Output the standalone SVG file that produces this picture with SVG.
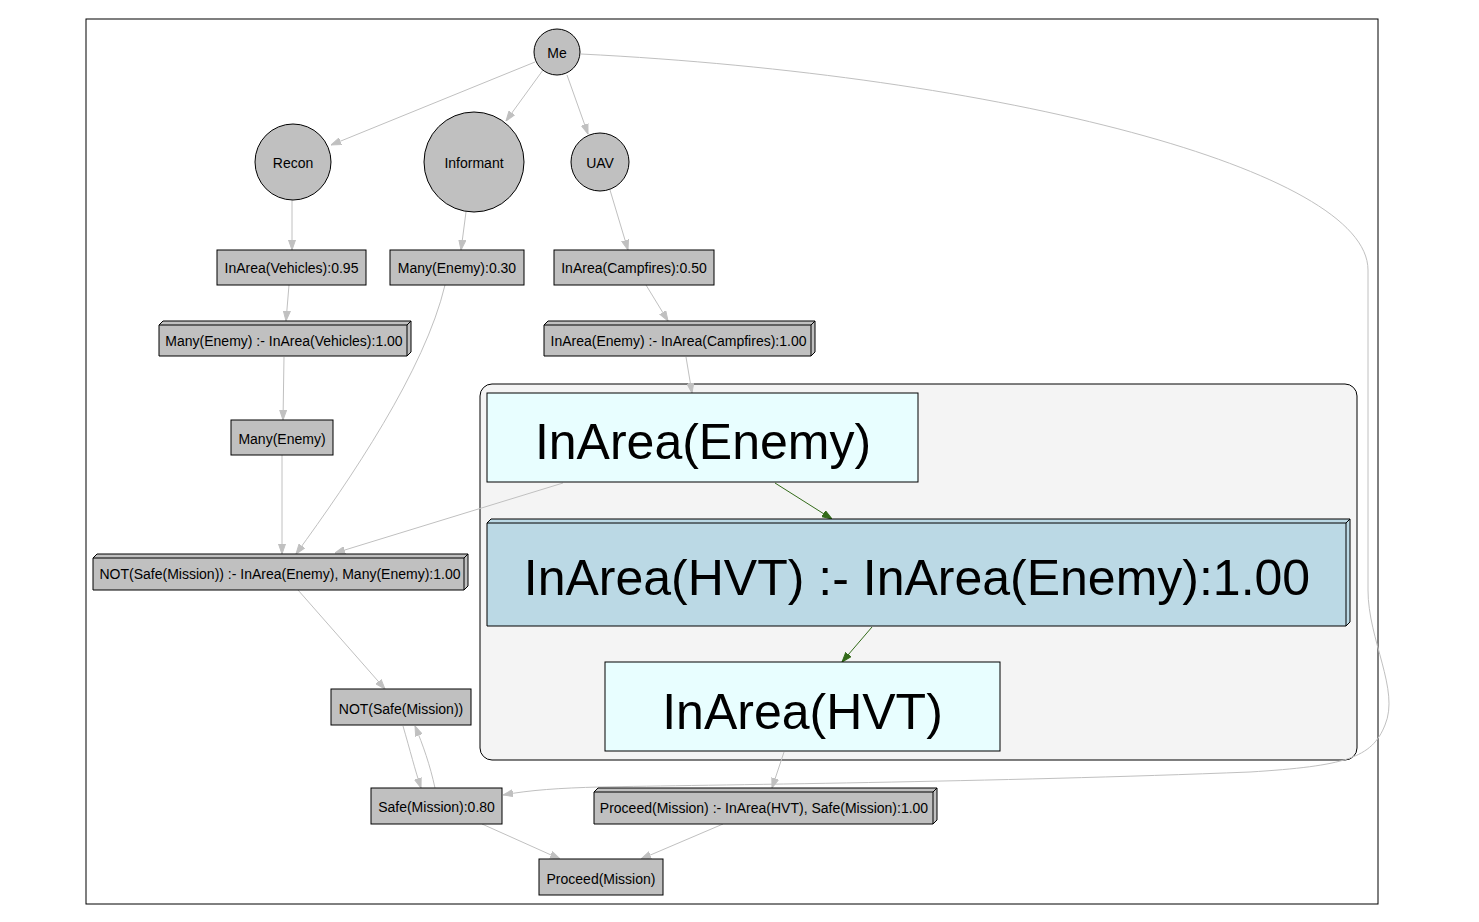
<svg xmlns="http://www.w3.org/2000/svg" width="1479" height="922" viewBox="0 0 1479 922">
<style>
.n{fill:#c0c0c0;stroke:#000;stroke-width:1}
.t{font-family:"Liberation Sans",Arial,sans-serif;font-size:14px;text-anchor:middle;fill:#000}
.big{font-family:"Liberation Sans",Arial,sans-serif;font-size:50px;text-anchor:middle;fill:#000}
.e{fill:none;stroke:#c0c0c0;stroke-width:1}
.g{fill:none;stroke:#336b1a;stroke-width:1}
</style>
<defs>
<marker id="ah" markerUnits="userSpaceOnUse" markerWidth="10" markerHeight="8" refX="10" refY="4" orient="auto"><path d="M0,0.5 L10,4 L0,7.5 z" fill="#c0c0c0" stroke="#c0c0c0"/></marker>
<marker id="ahg" markerUnits="userSpaceOnUse" markerWidth="10" markerHeight="8" refX="10" refY="4" orient="auto"><path d="M0,0.5 L10,4 L0,7.5 z" fill="#336b1a" stroke="#336b1a"/></marker>
</defs>
<rect x="0" y="0" width="1479" height="922" fill="#fff"/>
<rect x="86" y="19" width="1292" height="885" fill="none" stroke="#000"/>
<g id="cluster"><rect x="480" y="384" width="877" height="376" rx="12" fill="#f4f4f4" stroke="#000"/></g>
<g id="edges">
<path class="e" d="M535,62 L331,145" marker-end="url(#ah)"/>
<path class="e" d="M543,70 L506,121" marker-end="url(#ah)"/>
<path class="e" d="M567,75 L588,134" marker-end="url(#ah)"/>
<path class="e" d="M292,200 L292,250" marker-end="url(#ah)"/>
<path class="e" d="M466,212 L461,250" marker-end="url(#ah)"/>
<path class="e" d="M610,190 L628,250" marker-end="url(#ah)"/>
<path class="e" d="M289,285 L286,321" marker-end="url(#ah)"/>
<path class="e" d="M445,285 C425,370 350,480 296,554" marker-end="url(#ah)"/>
<path class="e" d="M646,285 L668,321" marker-end="url(#ah)"/>
<path class="e" d="M686,357 L692,393" marker-end="url(#ah)"/>
<path class="e" d="M284,357 L283,420" marker-end="url(#ah)"/>
<path class="e" d="M282,455 L282,554" marker-end="url(#ah)"/>
<path class="e" d="M563,483 L335,553" marker-end="url(#ah)"/>
<path class="g" d="M775,483 L832,519" marker-end="url(#ahg)"/>
<path class="g" d="M872,627 L842,662" marker-end="url(#ahg)"/>
<path class="e" d="M784,752 L772,788" marker-end="url(#ah)"/>
<path class="e" d="M298,590 L385,689" marker-end="url(#ah)"/>
<path class="e" d="M403,726 C410,750 415,770 421,788" marker-end="url(#ah)"/>
<path class="e" d="M435,788 C430,765 423,745 415,726" marker-end="url(#ah)"/>
<path class="e" d="M482,824 L560,859" marker-end="url(#ah)"/>
<path class="e" d="M723,824 L641,859" marker-end="url(#ah)"/>
<path class="e" d="M581,54 C1000,75 1368,170 1368,270 L1368,590 C1368,640 1400,690 1385,725 C1372,758 1345,766 1250,772 C1000,782 700,785 600,787 C560,788 530,790 503,795" marker-end="url(#ah)"/>
</g>
<g id="me"><circle class="n" cx="557" cy="52" r="23"/><text class="t" x="557" y="58">Me</text></g>
<g id="recon"><circle class="n" cx="293" cy="162" r="38"/><text class="t" x="293" y="168">Recon</text></g>
<g id="informant"><circle class="n" cx="474" cy="162" r="50"/><text class="t" x="474" y="168">Informant</text></g>
<g id="uav"><circle class="n" cx="600" cy="162" r="29"/><text class="t" x="600" y="168">UAV</text></g>
<g id="vehicles"><rect class="n" x="217" y="250" width="149" height="35"/><text class="t" x="291.5" y="273">InArea(Vehicles):0.95</text></g>
<g id="many030"><rect class="n" x="390" y="250" width="134" height="35"/><text class="t" x="457" y="273">Many(Enemy):0.30</text></g>
<g id="campfires"><rect class="n" x="554" y="250" width="160" height="35"/><text class="t" x="634" y="273">InArea(Campfires):0.50</text></g>
<g id="manyrule"><path class="n" d="M159,325 L163,321 L411,321 L411,352 L407,356 L159,356 Z"/><path fill="none" stroke="#000" d="M159,325 L407,325 L407,356 M407,325 L411,321"/><text class="t" x="284" y="345.5">Many(Enemy) :- InArea(Vehicles):1.00</text></g>
<g id="enemyrule"><path class="n" d="M544,325 L548,321 L815,321 L815,352 L811,356 L544,356 Z"/><path fill="none" stroke="#000" d="M544,325 L811,325 L811,356 M811,325 L815,321"/><text class="t" x="678.5" y="345.5">InArea(Enemy) :- InArea(Campfires):1.00</text></g>
<g id="manyenemy"><rect class="n" x="231" y="420" width="102" height="35"/><text class="t" x="282" y="444">Many(Enemy)</text></g>
<g id="notrule"><path class="n" d="M93,558 L97,554 L468,554 L468,586 L464,590 L93,590 Z"/><path fill="none" stroke="#000" d="M93,558 L464,558 L464,590 M464,558 L468,554"/><text class="t" x="280" y="579">NOT(Safe(Mission)) :- InArea(Enemy), Many(Enemy):1.00</text></g>
<g id="notsafe"><rect class="n" x="331" y="689" width="140" height="36"/><text class="t" x="401" y="714">NOT(Safe(Mission))</text></g>
<g id="safe"><rect class="n" x="371" y="788" width="131" height="36"/><text class="t" x="436.5" y="812">Safe(Mission):0.80</text></g>
<g id="proceedrule"><path class="n" d="M594,792 L598,788 L937,788 L937,820 L933,824 L594,824 Z"/><path fill="none" stroke="#000" d="M594,792 L933,792 L933,824 M933,792 L937,788"/><text class="t" x="764" y="813">Proceed(Mission) :- InArea(HVT), Safe(Mission):1.00</text></g>
<g id="proceed"><rect class="n" x="539" y="859" width="124" height="36"/><text class="t" x="601" y="884">Proceed(Mission)</text></g>
<g id="inareaenemy"><rect x="487" y="393" width="431" height="89" fill="#e8feff" stroke="#000"/><text class="big" x="703" y="459">InArea(Enemy)</text></g>
<g id="hvtrule"><path d="M487,523 L491,519 L1350,519 L1350,622 L1346,626 L487,626 Z" fill="#bbd9e5" stroke="#000"/><path fill="none" stroke="#000" d="M487,523 L1346,523 L1346,626 M1346,523 L1350,519"/><text class="big" x="917" y="595">InArea(HVT) :- InArea(Enemy):1.00</text></g>
<g id="inareahvt"><rect x="605" y="662" width="395" height="89" fill="#e8feff" stroke="#000"/><text class="big" x="802.5" y="729">InArea(HVT)</text></g>
</svg>
